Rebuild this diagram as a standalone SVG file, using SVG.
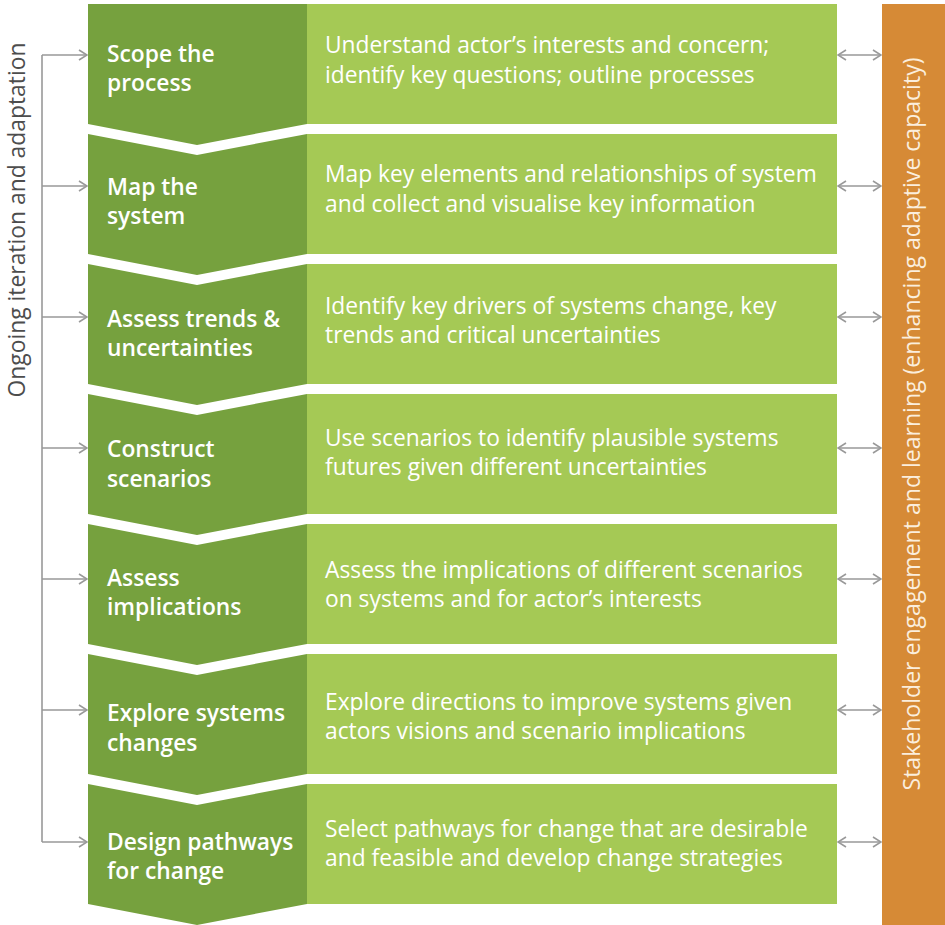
<svg xmlns="http://www.w3.org/2000/svg" width="945" height="925" viewBox="0 0 945 925">
<defs>
<style>
.dk{fill:#76a13e}
.lt{fill:#a5c955}
.lbl{font-family:"Open Sans","Noto Sans",sans-serif;font-size:22.8px;font-weight:600;fill:#ffffff}
.desc{font-family:"Open Sans","Noto Sans",sans-serif;font-size:22.8px;fill:#ffffff}
.ln{fill:none;stroke:#999999;stroke-width:1.6}
</style>
<marker id="ah" viewBox="0 0 10 12" refX="9" refY="6" markerWidth="10" markerHeight="12" markerUnits="userSpaceOnUse" orient="auto-start-reverse">
<path d="M1,1 L9,6 L1,11" fill="none" stroke="#999999" stroke-width="1.6"/>
</marker>
</defs>
<rect width="945" height="925" fill="#ffffff"/>

<g id="side-left">
<text transform="translate(25,220) rotate(-90)" text-anchor="middle" font-family="'Open Sans','Noto Sans',sans-serif" font-size="23" fill="#4d4d4d" textLength="355" lengthAdjust="spacingAndGlyphs">Ongoing iteration and adaptation</text>
</g>

<g id="stakeholder-bar">
<rect x="882" y="4" width="63" height="921" fill="#d68a36"/>
<text transform="translate(920,424) rotate(-90)" text-anchor="middle" font-family="'Open Sans','Noto Sans',sans-serif" font-size="23" fill="#fbeedd" textLength="733" lengthAdjust="spacingAndGlyphs">Stakeholder engagement and learning (enhancing adaptive capacity)</text>
</g>

<g id="step1">
<polygon class="dk" points="88,4 307,4 307,124 197,145 88,124"/>
<rect class="lt" x="307" y="4" width="530" height="120"/>
<text class="lbl" x="107" y="62">Scope the</text>
<text class="lbl" x="107" y="91">process</text>
<text class="desc" x="325" y="53">Understand actor’s interests and concern;</text>
<text class="desc" x="325" y="83">identify key questions; outline processes</text>
</g>

<g id="step2">
<polygon class="dk" points="88,134 197,155 307,134 307,254 197,275 88,254"/>
<rect class="lt" x="307" y="134" width="530" height="120"/>
<text class="lbl" x="107" y="195">Map the</text>
<text class="lbl" x="107" y="224">system</text>
<text class="desc" x="325" y="182">Map key elements and relationships of system</text>
<text class="desc" x="325" y="212">and collect and visualise key information</text>
</g>

<g id="step3">
<polygon class="dk" points="88,264 197,285 307,264 307,384 197,405 88,384"/>
<rect class="lt" x="307" y="264" width="530" height="120"/>
<text class="lbl" x="107" y="327">Assess trends &amp;</text>
<text class="lbl" x="107" y="356">uncertainties</text>
<text class="desc" x="325" y="314">Identify key drivers of systems change, key</text>
<text class="desc" x="325" y="343">trends and critical uncertainties</text>
</g>

<g id="step4">
<polygon class="dk" points="88,394 197,415 307,394 307,514 197,535 88,514"/>
<rect class="lt" x="307" y="394" width="530" height="120"/>
<text class="lbl" x="107" y="457">Construct</text>
<text class="lbl" x="107" y="487">scenarios</text>
<text class="desc" x="325" y="446">Use scenarios to identify plausible systems</text>
<text class="desc" x="325" y="475">futures given different uncertainties</text>
</g>

<g id="step5">
<polygon class="dk" points="88,524 197,545 307,524 307,644 197,665 88,644"/>
<rect class="lt" x="307" y="524" width="530" height="120"/>
<text class="lbl" x="107" y="586">Assess</text>
<text class="lbl" x="107" y="615">implications</text>
<text class="desc" x="325" y="578">Assess the implications of different scenarios</text>
<text class="desc" x="325" y="607">on systems and for actor’s interests</text>
</g>

<g id="step6">
<polygon class="dk" points="88,654 197,675 307,654 307,774 197,795 88,774"/>
<rect class="lt" x="307" y="654" width="530" height="120"/>
<text class="lbl" x="107" y="721">Explore systems</text>
<text class="lbl" x="107" y="751">changes</text>
<text class="desc" x="325" y="710">Explore directions to improve systems given</text>
<text class="desc" x="325" y="739">actors visions and scenario implications</text>
</g>

<g id="step7">
<polygon class="dk" points="88,784 197,805 307,784 307,904 197,925 88,904"/>
<rect class="lt" x="307" y="784" width="530" height="120"/>
<text class="lbl" x="107" y="850">Design pathways</text>
<text class="lbl" x="107" y="879">for change</text>
<text class="desc" x="325" y="837">Select pathways for change that are desirable</text>
<text class="desc" x="325" y="866">and feasible and develop change strategies</text>
</g>

<g id="connectors">
<path class="ln" d="M42,55 V842"/>
<path class="ln" d="M42,55 H87" marker-end="url(#ah)"/>
<path class="ln" d="M42,186 H87" marker-end="url(#ah)"/>
<path class="ln" d="M42,317 H87" marker-end="url(#ah)"/>
<path class="ln" d="M42,448 H87" marker-end="url(#ah)"/>
<path class="ln" d="M42,579 H87" marker-end="url(#ah)"/>
<path class="ln" d="M42,710 H87" marker-end="url(#ah)"/>
<path class="ln" d="M42,842 H87" marker-end="url(#ah)"/>
<path class="ln" d="M838,55 H881" marker-start="url(#ah)" marker-end="url(#ah)"/>
<path class="ln" d="M838,186 H881" marker-start="url(#ah)" marker-end="url(#ah)"/>
<path class="ln" d="M838,317 H881" marker-start="url(#ah)" marker-end="url(#ah)"/>
<path class="ln" d="M838,448 H881" marker-start="url(#ah)" marker-end="url(#ah)"/>
<path class="ln" d="M838,579 H881" marker-start="url(#ah)" marker-end="url(#ah)"/>
<path class="ln" d="M838,710 H881" marker-start="url(#ah)" marker-end="url(#ah)"/>
<path class="ln" d="M838,842 H881" marker-start="url(#ah)" marker-end="url(#ah)"/>
</g>
</svg>
